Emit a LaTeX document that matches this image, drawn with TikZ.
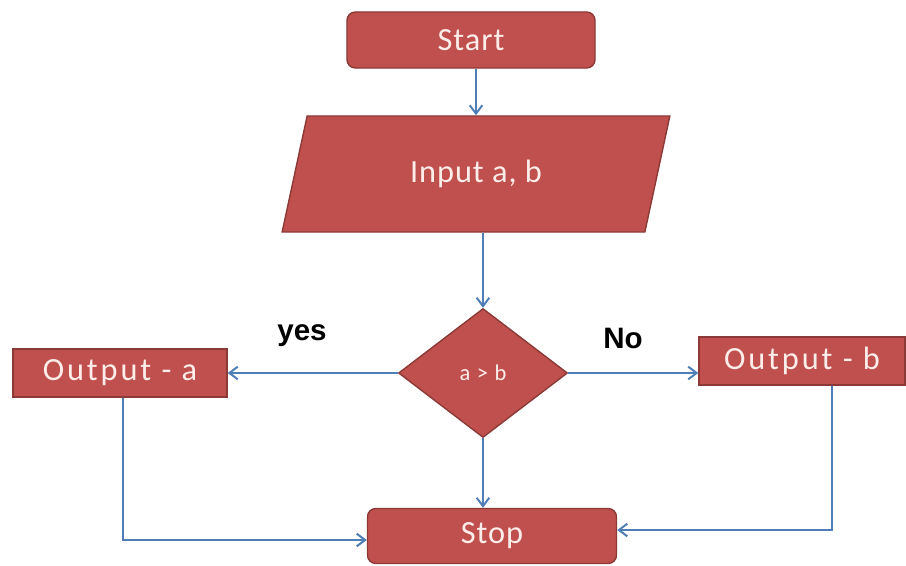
\documentclass[tikz,border=0pt]{standalone}
\usepackage{fontspec}
\setmainfont{Carlito}
\newfontfamily\labelfont{Liberation Sans}
\usepackage{tikz}
\usetikzlibrary{positioning, shapes.geometric}
\usetikzlibrary{arrows.meta}

\definecolor{boxred}{HTML}{C0504D}
\definecolor{boxedge}{HTML}{8C3A38}
\definecolor{flowblue}{HTML}{4F7DB5}
\definecolor{boxtext}{HTML}{FCECEA}

\begin{document}
\begin{tikzpicture}[x=0.025cm, y=-0.025cm,
        block/.style={draw=boxedge, line width=1pt, fill=boxred, text=boxtext,
            font=\fontsize{23}{25}\selectfont\addfontfeature{LetterSpace=3}, inner sep=2pt},
        spaced/.style={font=\fontsize{23}{25}\selectfont\addfontfeature{LetterSpace=9}},
        arr/.style={draw=flowblue, line width=1.4pt, -{Straight Barb[length=6pt, width=9pt]}},
        answer/.style={font=\labelfont\bfseries\fontsize{21}{24}\selectfont}]
        \useasboundingbox (0,0) rectangle (906,565);

        % Define nodes
        \node[block, rounded corners=6pt, minimum width=6.2cm, minimum height=1.4cm] (start) at (471, 40) {Start};
        \node[block, trapezium, trapezium left angle=73, trapezium right angle=107, trapezium stretches=true,
            minimum width=9.7cm, minimum height=2.9cm] (in) at (476, 174) {Input a, b};
        \node[block, diamond, minimum width=4.225cm, minimum height=3.225cm,
            font=\fontsize{16}{18}\selectfont\addfontfeature{LetterSpace=6}] (dec) at (483, 373) {a > b};
        \node[block, spaced, minimum width=5.35cm, minimum height=1.2cm] (outa) at (120, 373) {Output - a};
        \node[block, spaced, minimum width=5.15cm, minimum height=1.2cm] (outb) at (802, 361) {Output - b};
        \node[block, rounded corners=6pt, minimum width=6.225cm, minimum height=1.375cm] (stop) at (492, 536) {Stop};

        \node[answer] (yes) at (302, 336) {yes};
        \node[answer] (no) at (623, 338) {No};

        \coordinate (aturn) at (123, 540);
        \coordinate (bturn) at (832, 530);

        % Draw edges
        \draw[arr] (in.north |- start.south) -- (in.north);
        \draw[arr] (in.south -| dec.north) -- (dec.north);
        \draw[arr] (dec.west) -- (outa.east);
        \draw[arr] (dec.east) -- (dec.east -| outb.west);
        \draw[arr] (dec.south) -- (dec.south |- stop.north);
        \draw[arr] (outa.south -| aturn) |- (stop.west |- aturn);
        \draw[arr] (outb.south -| bturn) |- (stop.east |- bturn);
    \end{tikzpicture}
\end{document}
